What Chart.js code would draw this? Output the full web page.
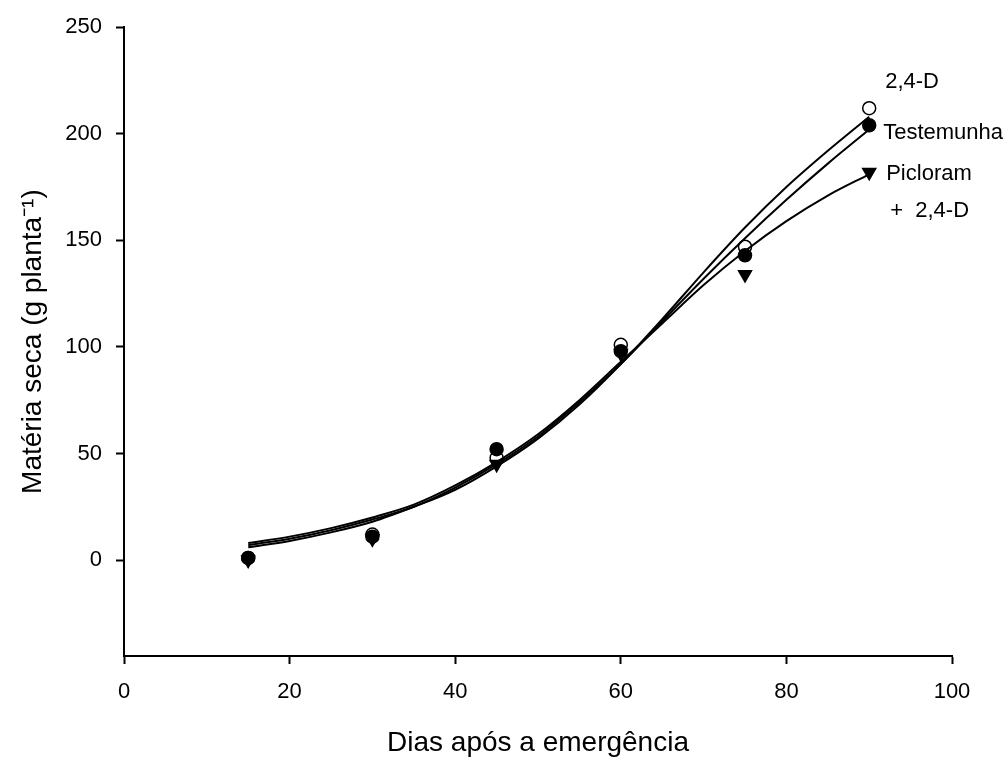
<!DOCTYPE html>
<html>
<head>
<meta charset="utf-8">
<title>Matéria seca</title>
<script src="https://cdn.jsdelivr.net/npm/chart.js@4.4.1/dist/chart.umd.min.js"></script>
<style>
  html, body { margin: 0; padding: 0; background: #fff; }
  canvas { display: block; }
</style>
</head>
<body>
<canvas id="chart" width="1007" height="758"></canvas>
<script>
// observed values (dias após a emergência)
const days = [15, 30, 45, 60, 75, 90];
const obs24D = [1, 12, 48, 101, 147, 212];
const obsTestemunha = [1, 11, 52, 98, 143, 204];
const obsPicloram = [0, 10, 45, 97, 134, 182];

// fitted curves, every 5 days
const curveDays = [15, 20, 25, 30, 35, 40, 45, 50, 55, 60, 65, 70, 75, 80, 85, 90];
const fit24D = [6, 9, 13, 18, 25, 33, 44, 57, 73, 92, 113, 135, 156, 175, 192, 208];
const fitTestemunha = [7, 10, 14, 19, 25, 34, 45, 58, 74, 92, 112, 132, 151, 169, 186, 202];
const fitPicloram = [8, 11, 15, 20, 26, 35, 46, 59, 75, 93, 111, 129, 145, 159, 171, 181];

const xTicks = [0, 20, 40, 60, 80, 100];
const yTicks = [0, 50, 100, 150, 200, 250];

const FONT = "'Liberation Sans', Arial, sans-serif";

const toPoints = (xs, ys) => xs.map((x, i) => ({ x, y: ys[i] }));

const curve = (ys) => ({
  type: 'line',
  data: toPoints(curveDays, ys),
  borderColor: '#000',
  borderWidth: 2,
  pointRadius: 0,
  fill: false,
  cubicInterpolationMode: 'monotone',
});

const markers = (ys, style) => ({
  type: 'scatter',
  data: toPoints(days, ys),
  showLine: false,
  borderColor: '#000',
  borderWidth: 1.5,
  ...style,
});

// series names written next to the last points
const seriesNotes = [
  { text: '2,4-D', x: 90, y: 212, dx: 16, dy: -26 },
  { text: 'Testemunha', x: 90, y: 204, dx: 14, dy: 8 },
  { text: 'Picloram', x: 90, y: 182, dx: 17, dy: 2 },
  { text: '+  2,4-D', x: 90, y: 182, dx: 21, dy: 39 },
];

const notesPlugin = {
  id: 'notes',
  afterDatasetsDraw(chart) {
    const { ctx, scales } = chart;
    ctx.save();
    ctx.fillStyle = '#000';
    ctx.font = `22px ${FONT}`;
    ctx.textAlign = 'left';
    ctx.textBaseline = 'middle';
    seriesNotes.forEach((n) => {
      ctx.fillText(n.text, scales.x.getPixelForValue(n.x) + n.dx, scales.y.getPixelForValue(n.y) + n.dy);
    });
    ctx.restore();
  },
};

new Chart(document.getElementById('chart'), {
  data: {
    datasets: [
      curve(fit24D),
      curve(fitTestemunha),
      curve(fitPicloram),
      markers(obsPicloram, { pointStyle: 'triangle', rotation: 180, pointRadius: 7.5, backgroundColor: '#000' }),
      markers(obsTestemunha, { pointStyle: 'circle', pointRadius: 6.5, backgroundColor: '#000' }),
      markers(obs24D, { pointStyle: 'circle', pointRadius: 6.5, backgroundColor: '#fff' }),
    ],
  },
  options: {
    responsive: false,
    animation: false,
    layout: { padding: { top: 25, right: 55, bottom: 0, left: 0 } },
    plugins: { legend: { display: false }, tooltip: { enabled: false } },
    scales: {
      x: {
        type: 'linear',
        min: 0,
        max: 100,
        afterBuildTicks: (s) => { s.ticks = xTicks.map((v) => ({ value: v })); },
        afterFit: (s) => { s.height = 102; },
        grid: { drawOnChartArea: false, drawTicks: true, tickLength: 8, tickColor: '#000', tickWidth: 2 },
        border: { display: true, color: '#000', width: 2 },
        ticks: { color: '#000', font: { family: FONT, size: 22 }, padding: 15, maxRotation: 0 },
        title: {
          display: true,
          text: 'Dias após a emergência',
          color: '#000',
          font: { family: FONT, size: 28, lineHeight: 1 },
          padding: { top: 0, bottom: 1 },
        },
      },
      y: {
        type: 'linear',
        min: -45,
        max: 250,
        afterBuildTicks: (s) => { s.ticks = yTicks.map((v) => ({ value: v })); },
        afterFit: (s) => { s.width = 124; },
        grid: { drawOnChartArea: false, drawTicks: true, tickLength: 8, tickColor: '#000', tickWidth: 2 },
        border: { display: true, color: '#000', width: 2 },
        ticks: { color: '#000', font: { family: FONT, size: 22 }, padding: 14 },
        title: {
          display: true,
          text: 'Matéria seca (g planta⁻¹)',
          color: '#000',
          font: { family: FONT, size: 28, lineHeight: 1 },
          padding: { top: 19, bottom: 0 },
        },
      },
    },
  },
  plugins: [notesPlugin],
});
</script>
</body>
</html>
